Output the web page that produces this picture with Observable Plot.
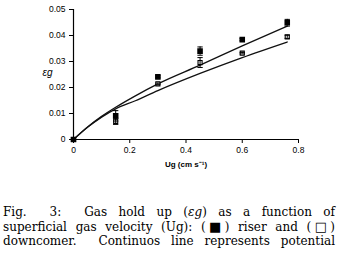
<!DOCTYPE html>
<html>
<head>
<meta charset="utf-8">
<script src="https://cdn.jsdelivr.net/npm/d3@7"></script>
<script src="https://cdn.jsdelivr.net/npm/@observablehq/plot@0.6"></script>
<style>
  html, body { margin: 0; padding: 0; background: #fff; }
  #chart svg { display: block; }
  .cap { width: 332px; margin-left: 3px; font-family: "DejaVu Serif", "Liberation Serif", serif; font-size: 12px; line-height: 14.7px; color: #000; }
  .cap div { text-align: justify; text-align-last: justify; white-space: nowrap; }
  .sq { font-family: "DejaVu Sans", sans-serif; font-size: 13px; margin: 0 -1.5px; }
  #caption { margin-top: 25px; }
</style>
</head>
<body>
<div id="chart"></div>
<div id="caption" class="cap">
  <div>Fig.&nbsp; 3:&nbsp; Gas hold up (<i>εg</i>) as a function of</div>
  <div>superficial gas velocity (Ug): (<span class="sq">■</span>) riser and (<span class="sq">□</span>)</div>
  <div>downcomer.&nbsp; Continuos line represents potential</div>
</div>
<script>
// Measured data (Ug in cm/s, gas hold-up εg)
const ug = [0, 0.15, 0.3, 0.45, 0.6, 0.76];
const riser = [0, 0.0091, 0.0241, 0.0340, 0.0384, 0.0449];
const riserErr = [0, 0.0020, 0.0004, 0.0016, 0.0004, 0.0013];
const downcomer = [0, 0.0070, 0.0214, 0.0296, 0.0332, 0.0395];
const downErr = [0, 0.0012, 0.0003, 0.0019, 0.0003, 0.0006];

// Model (continuous lines)
const lineUg = [0, 0.05, 0.1, 0.15, 0.22, 0.3, 0.45, 0.6, 0.76];
const riserModel = [0, 0.0048, 0.0089, 0.0124, 0.0168, 0.0214, 0.0286, 0.0360, 0.0436];
const downModel = [0, 0.0047, 0.0086, 0.0118, 0.0149, 0.0188, 0.0254, 0.0315, 0.0375];

const xTicks = [0, 0.2, 0.4, 0.6, 0.8];
const xTickLabels = ["0", "0.2", "0.4", "0.6", "0.8"];
const yTicks = [0, 0.01, 0.02, 0.03, 0.04, 0.05];
const yTickLabels = ["0", "0.01", "0.02", "0.03", "0.04", "0.05"];

const xLabel = "Ug (cm s\u207B\u00B9)";
const yLabel = "εg";

const pts = ug.map((u, i) => ({u, r: riser[i], re: riserErr[i], d: downcomer[i], de: downErr[i]}));
const model = lineUg.map((u, i) => ({u, r: riserModel[i], d: downModel[i]}));

const capSymbol = {
  draw(context, size) {
    const w = Math.sqrt(size) / 2;
    context.moveTo(-w, 0);
    context.lineTo(w, 0);
  }
};

const chart = Plot.plot({
  width: 337,
  height: 180,
  marginLeft: 73,
  marginRight: 39,
  marginTop: 9,
  marginBottom: 41,
  style: {fontFamily: "'Liberation Sans', Arial, sans-serif", fontSize: "8.5px", color: "#000", background: "#fff"},
  x: {domain: [0, 0.8], label: null},
  y: {domain: [0, 0.05], label: null},
  marks: [
    Plot.axisX({ticks: xTicks, tickFormat: (d, i) => xTickLabels[i], tickSize: 4, tickPadding: 3, stroke: "#000"}),
    Plot.axisY({ticks: yTicks, tickFormat: (d, i) => yTickLabels[i], tickSize: 4, tickPadding: 4, stroke: "#000"}),
    Plot.ruleX([0], {stroke: "#000", strokeWidth: 1.2}),
    Plot.ruleY([0], {stroke: "#000", strokeWidth: 1.2}),
    Plot.line(model, {x: "u", y: "r", stroke: "#111", strokeWidth: 1.3, curve: "monotone-x"}),
    Plot.line(model, {x: "u", y: "d", stroke: "#111", strokeWidth: 1.3, curve: "monotone-x"}),
    Plot.dot(pts, {x: "u", y: "d", symbol: "square", r: 2.3, fill: "#fff", stroke: "#000", strokeWidth: 1.1}),
    Plot.dot(pts, {x: "u", y: "r", symbol: "square", r: 2.3, fill: "#000", stroke: "#000"}),
    Plot.ruleX(pts.filter(p => p.re > 0), {x: "u", y1: p => p.r - p.re, y2: p => p.r + p.re, stroke: "#000", strokeWidth: 1}),
    Plot.ruleX(pts.filter(p => p.de > 0), {x: "u", y1: p => p.d - p.de, y2: p => p.d + p.de, stroke: "#000", strokeWidth: 1}),
    Plot.dot(pts.filter(p => p.re > 0).flatMap(p => [{u: p.u, v: p.r - p.re}, {u: p.u, v: p.r + p.re}]), {x: "u", y: "v", symbol: capSymbol, r: 3, stroke: "#000", strokeWidth: 1}),
    Plot.dot(pts.filter(p => p.de > 0).flatMap(p => [{u: p.u, v: p.d - p.de}, {u: p.u, v: p.d + p.de}]), {x: "u", y: "v", symbol: capSymbol, r: 3, stroke: "#000", strokeWidth: 1}),
    Plot.text([yLabel], {frameAnchor: "left", dx: -31, dy: -2, text: d => d, fontSize: 10, fontStyle: "italic", fontFamily: "'Liberation Sans', Arial, sans-serif", fill: "#000"}),
    Plot.text([xLabel], {frameAnchor: "bottom", dy: 27, text: d => d, fontSize: 8, fontWeight: "bold", fill: "#000"})
  ]
});
document.getElementById("chart").appendChild(chart);
</script>
</body>
</html>
